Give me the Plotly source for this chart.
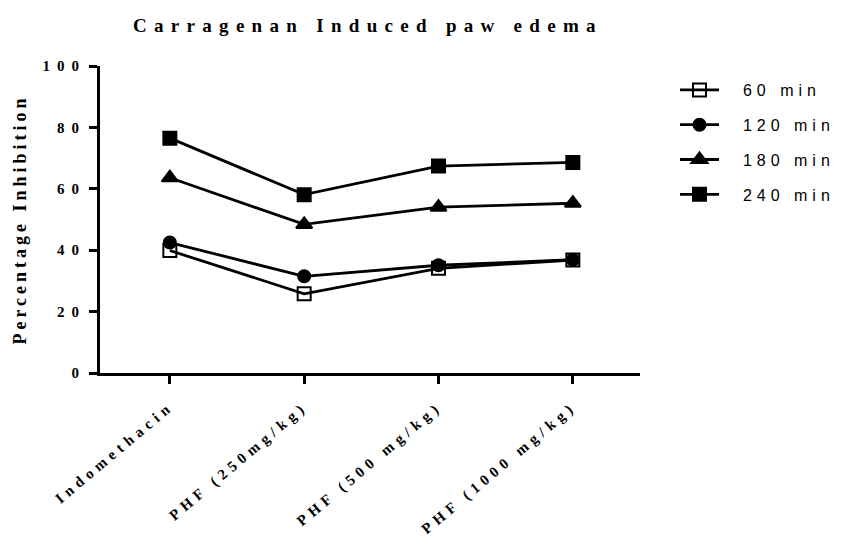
import plotly.graph_objects as go

# Treatment groups on the x axis
groups = ["Indomethacin", "PHF (250mg/kg)", "PHF (500 mg/kg)", "PHF (1000 mg/kg)"]

# Percentage inhibition per time point
inh_60 = [39.9, 25.8, 34.1, 36.8]
inh_120 = [42.5, 31.5, 35.1, 36.9]
inh_180 = [63.6, 48.4, 54.0, 55.3]
inh_240 = [76.5, 58.1, 67.4, 68.6]

tick_vals = [0, 20, 40, 60, 80, 100]
tick_text = ["0", "20", "40", "60", "80", "100"]

series = [
    ("60 min", inh_60, "square-open", 13),
    ("120 min", inh_120, "circle", 12),
    ("180 min", inh_180, "triangle-up", 14),
    ("240 min", inh_240, "square", 13),
]


def spaced(text, px, bold=True):
    inner = f"<b>{text}</b>" if bold else text
    return f'<span style="letter-spacing:{px}px">{inner}</span>'


fig = go.Figure()
for name, vals, sym, size in series:
    fig.add_trace(go.Scatter(
        x=list(range(len(groups))), y=vals,
        name=spaced("&nbsp;&nbsp;" + name, 5, bold=False),
        legendgroup=name,
        mode="lines+markers",
        line=dict(color="black", width=2.8),
        marker=dict(symbol=sym, size=size, color="black",
                    line=dict(color="black", width=2)),
    ))

serif = "Liberation Serif"

fig.update_layout(
    width=842, height=537,
    margin=dict(l=100, r=202, t=66, b=164, autoexpand=False),
    paper_bgcolor="white", plot_bgcolor="white",
    title=dict(text=spaced("Carragenan Induced paw edema", 7.3),
               x=133 / 842, xanchor="left", y=1 - 25 / 537, yanchor="middle",
               font=dict(family=serif, size=19, color="black")),
    legend=dict(xref="container", yref="container",
                x=675 / 842, xanchor="left", y=1 - 73 / 537, yanchor="top",
                font=dict(family="Liberation Sans", size=16, color="black"),
                itemwidth=39, tracegroupgap=11, bgcolor="rgba(0,0,0,0)"),
    showlegend=True,
)

fig.update_xaxes(
    range=[-0.52, 3.5],
    tickmode="array", tickvals=list(range(len(groups))),
    ticktext=[spaced(g, 5) for g in groups],
    tickangle=-40,
    tickfont=dict(family=serif, size=15, color="black"),
    ticklabelstandoff=8,
    automargin=False,
    showline=True, linecolor="black", linewidth=3,
    ticks="outside", ticklen=8, tickwidth=3, tickcolor="black",
    showgrid=False, zeroline=False,
)

fig.update_yaxes(
    range=[0, 100],
    tickmode="array", tickvals=tick_vals,
    ticktext=[spaced(t, 7) for t in tick_text],
    tickfont=dict(family=serif, size=15, color="black"),
    automargin=False,
    showline=True, linecolor="black", linewidth=3,
    ticks="outside", ticklen=8, tickwidth=3, tickcolor="black",
    showgrid=False, zeroline=False,
    title=dict(text=spaced("Percentage Inhibition", 4),
               font=dict(family=serif, size=18, color="black"), standoff=12),
)

fig.write_html("out.html")
